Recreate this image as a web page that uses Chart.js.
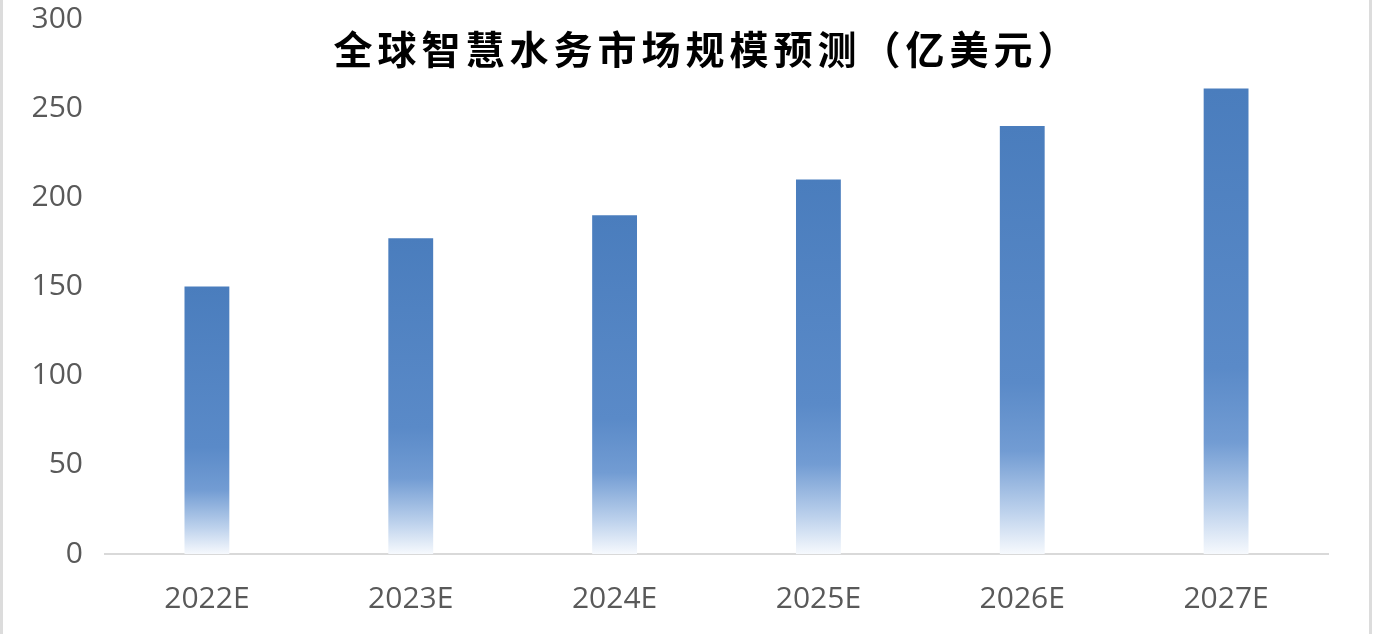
<!DOCTYPE html>
<html>
<head>
<meta charset="utf-8">
<script src="https://cdn.jsdelivr.net/npm/chart.js@4.4.1/dist/chart.umd.min.js"></script>
<style>
  html, body { margin: 0; padding: 0; background: #fff; }
  #wrap {
    position: relative;
    width: 1385px; height: 634px;
    box-sizing: border-box;
  }
  #frameL { position: absolute; left: 0; top: 0; width: 3px; height: 634px; background: #dcdcdc; }
  #frameR { position: absolute; left: 1369px; top: 0; width: 3px; height: 634px; background: #dcdcdc; }
  #title {
    position: absolute; left: 15px; width: 1385px; top: 19px;
    text-align: center;
    font-family: "Noto Sans CJK SC", sans-serif;
    font-weight: 700;
    font-size: 39px;
    letter-spacing: 5px;
    color: #000;
  }
</style>
</head>
<body>
<div id="wrap">
  <canvas id="chart" width="1385" height="634"></canvas>
  <div id="frameL"></div>
  <div id="frameR"></div>
  <div id="title">全球智慧水务市场规模预测（亿美元）</div>
</div>
<script>
// chart data
const years = ["2022E", "2023E", "2024E", "2025E", "2026E", "2027E"];
const marketSize = [150, 177, 190, 210, 240, 261];
const yTicks = [0, 50, 100, 150, 200, 250, 300];

// gradient per bar: solid blue at top, fading to white at the base
function barFill(context) {
  const chart = context.chart;
  const y = chart.scales.y;
  if (!y || !context.parsed) return "#4f81bd";
  const top = y.getPixelForValue(context.parsed.y);
  const base = y.getPixelForValue(0);
  if (!isFinite(top) || !isFinite(base) || top === base) return "#4f81bd";
  const g = chart.ctx.createLinearGradient(0, top, 0, base);
  g.addColorStop(0, "#4a7dbd");
  g.addColorStop(0.6, "#5a8ac8");
  g.addColorStop(0.76, "#729cd3");
  g.addColorStop(0.9, "#bcd1ec");
  g.addColorStop(1, "#f6f9fd");
  return g;
}

const ctx = document.getElementById("chart");

new Chart(ctx, {
  type: "bar",
  data: {
    labels: years,
    datasets: [{
      data: marketSize,
      backgroundColor: barFill,
      borderWidth: 0,
      categoryPercentage: 1,
      barPercentage: 0.22
    }]
  },
  options: {
    responsive: false,
    animation: false,
    layout: { padding: { left: 0, right: 57, top: 19, bottom: 0 } },
    plugins: {
      legend: { display: false },
      tooltip: { enabled: false }
    },
    scales: {
      x: {
        grid: { display: false, drawTicks: false },
        border: { display: true, color: "#d9d9d9", width: 2 },
        ticks: {
          color: "#595959",
          font: { family: "'Open Sans', sans-serif", size: 30 },
          padding: 27
        },
        afterFit: s => { s.height = 80; }
      },
      y: {
        min: 0,
        max: 300,
        afterBuildTicks: s => { s.ticks = yTicks.map(v => ({ value: v })); },
        grid: { display: false, drawTicks: false },
        border: { display: false },
        ticks: {
          color: "#595959",
          font: { family: "'Open Sans', sans-serif", size: 30 },
          padding: 22
        },
        afterFit: s => { s.width = 105; s.paddingTop = 0; s.paddingBottom = 0; }
      }
    }
  }
});
</script>
</body>
</html>
